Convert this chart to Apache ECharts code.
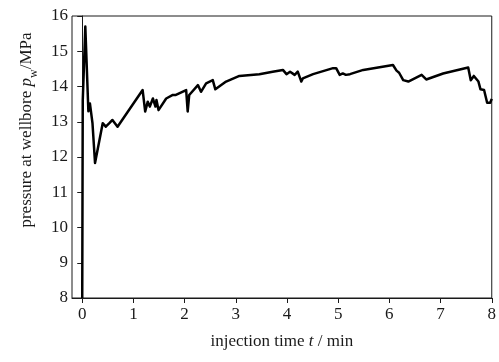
<!DOCTYPE html>
<html>
<head>
<meta charset="utf-8">
<script src="https://cdn.jsdelivr.net/npm/echarts@6/dist/echarts.min.js"></script>
<style>
  html, body { margin: 0; padding: 0; background: #fff; }
  #chart { width: 499px; height: 362px; }
</style>
</head>
<body>
<div id="chart"></div>
<script>
// Injection time (min) and wellbore pressure (MPa)
var timeMin = [
  0.00, 0.01, 0.06, 0.12, 0.15, 0.18, 0.20, 0.25, 0.40, 0.46, 0.53, 0.59, 0.69,
  1.18, 1.23, 1.28, 1.32, 1.38, 1.43, 1.45, 1.49, 1.64, 1.77, 1.83, 2.03, 2.06,
  2.09, 2.26, 2.32, 2.42, 2.55, 2.60, 2.81, 3.07, 3.46, 3.72, 3.92, 3.99, 4.06,
  4.15, 4.21, 4.28, 4.31, 4.51, 4.90, 4.96, 5.03, 5.09, 5.15, 5.23, 5.49, 6.07,
  6.14, 6.19, 6.27, 6.37, 6.63, 6.72, 7.05, 7.54, 7.59, 7.65, 7.74, 7.78, 7.85,
  7.91, 7.97, 8.00
];
var pressureMPa = [
  8.00, 13.60, 15.70, 13.30, 13.52, 13.50, 12.96, 11.83, 12.96, 12.86, 12.96, 13.05, 12.86,
  13.90, 13.29, 13.57, 13.43, 13.66, 13.43, 13.62, 13.33, 13.66, 13.76, 13.76, 13.90, 13.29,
  13.76, 14.04, 13.85, 14.09, 14.18, 13.92, 14.14, 14.30, 14.35, 14.42, 14.47, 14.35, 14.42,
  14.33, 14.42, 14.14, 14.23, 14.35, 14.52, 14.52, 14.33, 14.37, 14.33, 14.35, 14.47, 14.61,
  14.45, 14.39, 14.18, 14.14, 14.33, 14.20, 14.37, 14.54, 14.18, 14.30, 14.14, 13.92, 13.90,
  13.54, 13.54, 13.65
];
var xTicks = [0, 1, 2, 3, 4, 5, 6, 7, 8];

var serif = '"Liberation Serif", "DejaVu Serif", serif';
var ink = '#1a1a1a';

var chart = echarts.init(document.getElementById('chart'), null, { renderer: 'canvas' });
chart.setOption({
  animation: false,
  backgroundColor: '#fff',
  grid: {
    left: 72, right: 7, top: 16, bottom: 64,
    show: true, borderColor: ink, borderWidth: 1, backgroundColor: 'transparent'
  },
  xAxis: {
    type: 'value',
    min: -0.2, max: 8,
    name: 'injection time {i|t} / min',
    nameLocation: 'middle',
    nameGap: 35,
    nameTextStyle: {
      fontFamily: serif, fontSize: 17, color: ink,
      rich: { i: { fontFamily: serif, fontStyle: 'italic', fontSize: 17, color: ink } }
    },
    splitLine: { show: false },
    axisLine: { show: true, onZero: false, lineStyle: { color: ink, width: 1 } },
    axisTick: { show: true, inside: false, length: 5, customValues: xTicks, lineStyle: { color: ink } },
    axisLabel: { customValues: xTicks, fontFamily: serif, fontSize: 17, color: ink, margin: 8 }
  },
  yAxis: {
    type: 'value',
    min: 8, max: 16, interval: 1,
    name: '{n|pressure at wellbore }{i|p}{s|w}{n|/MPa}',
    nameLocation: 'middle',
    nameGap: 32,
    nameTextStyle: {
      fontFamily: serif, fontSize: 17, color: ink,
      padding: [0, 0, 0, 54],
      rich: {
        n: { fontFamily: serif, fontSize: 17, color: ink, lineHeight: 26, verticalAlign: 'middle' },
        i: { fontFamily: serif, fontStyle: 'italic', fontSize: 17, color: ink, lineHeight: 26, verticalAlign: 'middle' },
        s: { fontFamily: serif, fontSize: 12, color: ink, lineHeight: 12, verticalAlign: 'bottom' }
      }
    },
    splitLine: { show: false },
    axisLine: { show: true, lineStyle: { color: ink, width: 1 } },
    axisTick: { show: true, inside: false, length: 5, lineStyle: { color: ink } },
    axisLabel: { fontFamily: serif, fontSize: 17, color: ink, margin: 4 }
  },
  series: [{
    type: 'line',
    data: timeMin.map(function (t, k) { return [t, pressureMPa[k]]; }),
    symbol: 'none',
    clip: true,
    lineStyle: { color: '#000', width: 2.5, join: 'round' }
  }]
});
</script>
</body>
</html>
